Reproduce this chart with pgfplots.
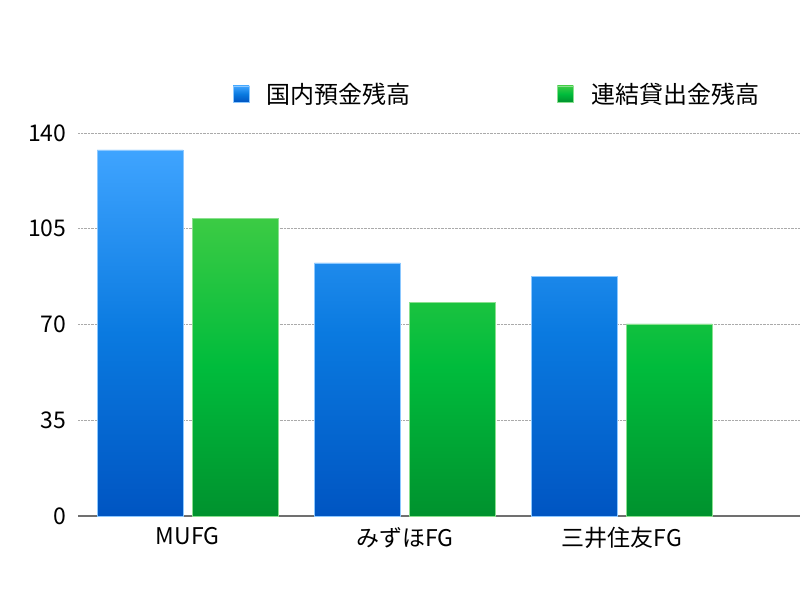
\documentclass[border=0pt]{standalone}
\usepackage{fontspec}
\setmainfont{Noto Sans CJK JP}
\usepackage{pgfplots}
\pgfplotsset{compat=1.18}

\definecolor{bluetop}{HTML}{3FA4FF}
\definecolor{bluemid}{HTML}{0A7AE0}
\definecolor{bluebot}{HTML}{0055C2}
\definecolor{greentop}{HTML}{3CCB44}
\definecolor{greenmid}{HTML}{00BC3C}
\definecolor{greenbot}{HTML}{00922E}
\definecolor{gridgray}{HTML}{AAAAAA}
\definecolor{axisgray}{HTML}{707070}

\begin{document}
\begin{tikzpicture}[x=1pt,y=1pt]
\begin{axis}[
    at={(78pt,84pt)}, anchor=south west,
    scale only axis,
    width=722pt, height=383pt,
    xmin=-0.505, xmax=2.82,
    ymin=0, ymax=140,
    xtick={0,1,2},
    xticklabels={MUFG,みずほFG,三井住友FG},
    ytick={0,35,70,105,140},
    ymajorgrids,
    grid style={densely dotted, gridgray, line width=0.8pt},
    axis lines*=left,
    y axis line style={draw=none},
    x axis line style={draw=axisgray, line width=1.2pt},
    major tick length=0pt,
    /pgf/number format/assume math mode=true,
    yticklabel style={font=\fontsize{23}{23}\selectfont, xshift=-8pt},
    xticklabel style={font=\fontsize{23}{23}\selectfont, yshift=-8pt},
    legend columns=2,
    legend style={
        draw=none, fill=none,
        at={(0.210,1.102)}, anchor=west,
        font=\fontsize{24}{24}\selectfont,
        /tikz/every even column/.append style={column sep=134pt},
        nodes={inner xsep=12.5pt},
    },
    legend image code/.code={\path[#1] (0pt,-8pt) rectangle (16pt,8pt);
        \path (21pt,0pt);},
]
    \addplot[ybar, bar width=86pt, bar shift=-47.5pt,
        draw=bluetop!60!white, line width=0.4pt,
        top color=bluetop, bottom color=bluebot, middle color=bluemid]
        coordinates {(0,133.8) (1,92.5) (2,87.7)};
    \addlegendentry{国内預金残高}
    \addplot[ybar, bar width=86pt, bar shift=47.5pt,
        draw=greentop!60!white, line width=0.4pt,
        top color=greentop, bottom color=greenbot, middle color=greenmid]
        coordinates {(0,108.9) (1,78.2) (2,70.2)};
    \addlegendentry{連結貸出金残高}
\end{axis}
\pgfresetboundingbox
\path (0,0) rectangle (800,600);
\end{tikzpicture}
\end{document}
